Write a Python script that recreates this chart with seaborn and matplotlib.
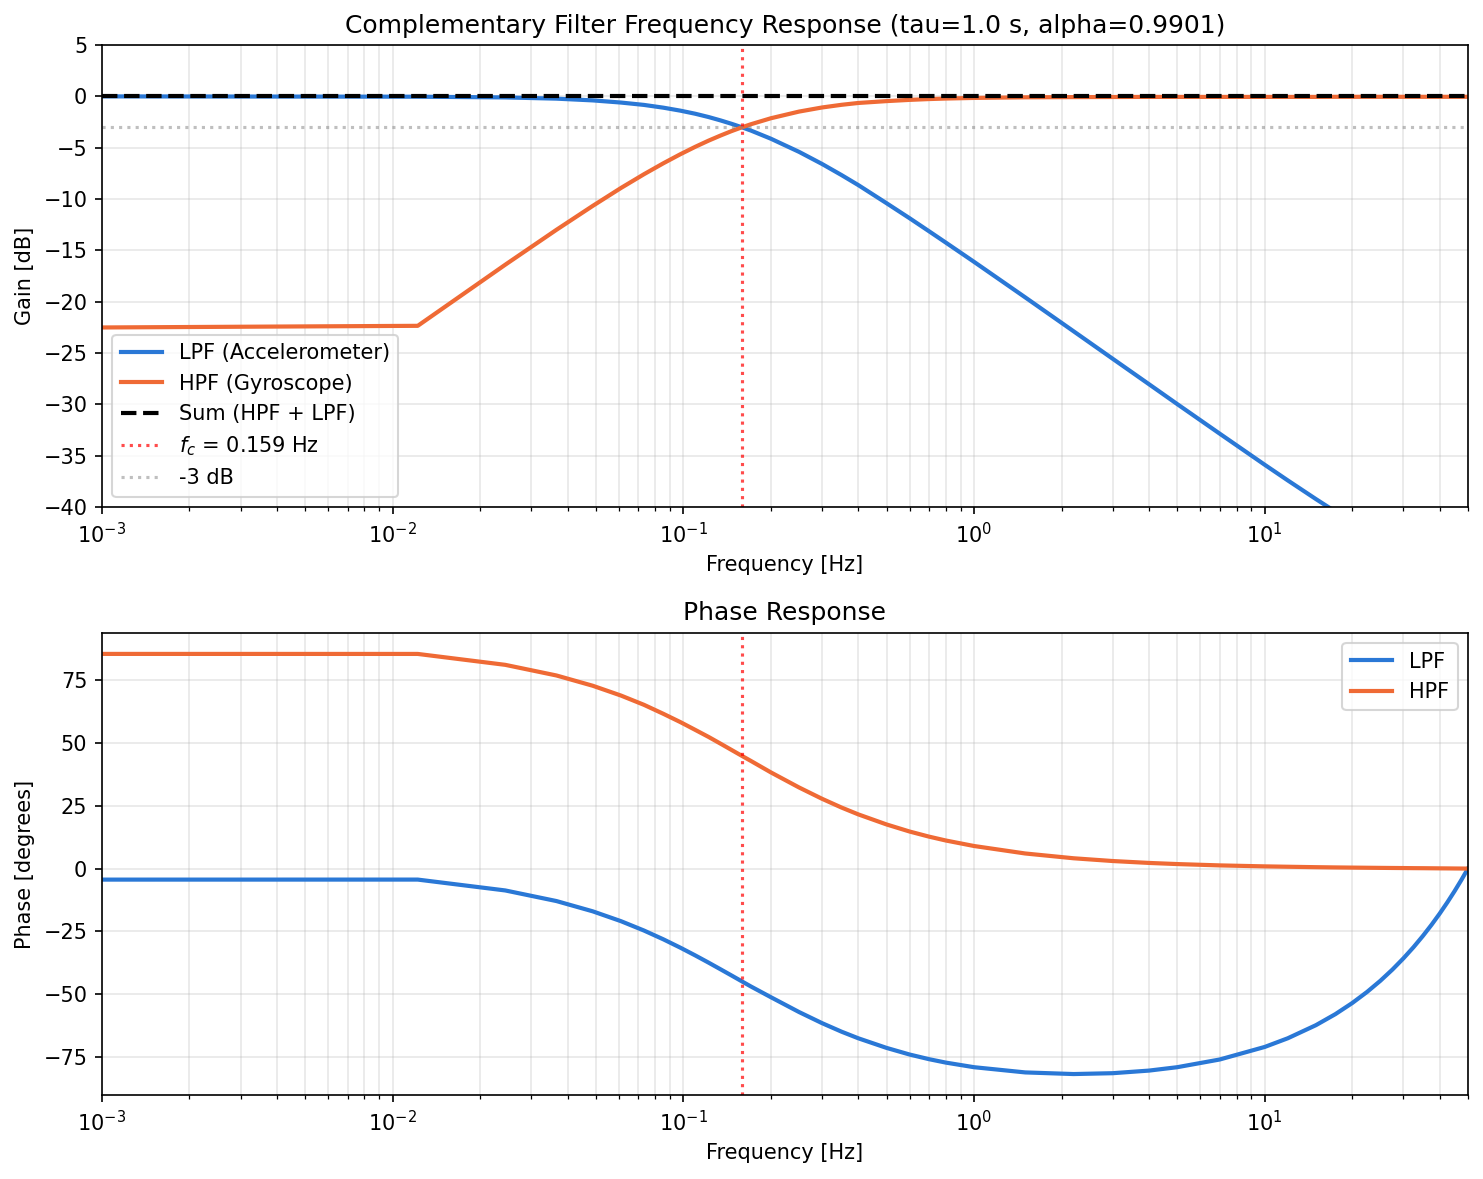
import matplotlib
matplotlib.use("Agg")
import matplotlib.pyplot as plt
import seaborn as sns
import pandas as pd

plt.rcParams['font.family'] = ['DejaVu Sans']

# frequency points (Hz)
freq = [0.001, 0.0122, 0.0244, 0.0366, 0.0488, 0.061, 0.0732, 0.0854, 0.0977,
        0.1099, 0.1221, 0.1343, 0.1465, 0.1587, 0.1709, 0.2, 0.25, 0.3, 0.35, 0.4,
        0.5, 0.6, 0.7, 0.8, 1.0, 1.5, 2.2, 3.0, 4.0, 5.0, 7.0, 10.0, 12.0, 15.0,
        17.5, 20.0, 22.5, 25.0, 27.5, 30.0, 32.5, 35.0, 37.5, 40.0, 42.5, 45.0, 47.5, 50.0]

lpf_gain = [0.0, -0.03, -0.10, -0.22, -0.39, -0.60, -0.83, -1.10, -1.39,
            -1.69, -2.01, -2.34, -2.67, -3.00, -3.33, -4.12, -5.40, -6.58, -7.66, -8.64,
            -10.40, -11.86, -13.13, -14.24, -16.11, -19.57, -22.87, -25.55, -28.03, -29.96, -32.84, -35.87, -37.39, -39.21,
            -40.43, -41.45, -42.32, -43.05, -43.69, -44.22, -44.68, -45.06, -45.38, -45.63, -45.82, -45.96, -46.04, -46.07]
hpf_gain = [-22.5, -22.34, -16.39, -12.99, -10.66, -8.92, -7.58, -6.51, -5.63,
            -4.91, -4.31, -3.81, -3.38, -3.02, -2.71, -2.13, -1.48, -1.08, -0.82, -0.64,
            -0.46, -0.34, -0.26, -0.21, -0.15, -0.09, -0.07, -0.06, -0.05, -0.05, -0.05, -0.05, -0.05, -0.05,
            -0.04, -0.04, -0.04, -0.04, -0.04, -0.04, -0.04, -0.04, -0.04, -0.04, -0.04, -0.04, -0.04, -0.04]
sum_gain = [0.0] * len(freq)

lpf_phase = [-4.4, -4.39, -8.72, -12.95, -17.05, -20.97, -24.70, -28.22, -31.55,
             -34.63, -37.50, -40.17, -42.63, -44.92, -47.03, -51.28, -57.2, -61.63, -65.03, -67.68,
             -71.5, -74.14, -76.0, -77.37, -79.2, -81.28, -81.93, -81.59, -80.55, -79.20, -76.13, -71.12, -67.67, -62.44,
             -58.04, -53.61, -49.17, -44.72, -40.26, -35.79, -31.33, -26.85, -22.38, -17.91, -13.43, -8.96, -4.48, 0.0]
hpf_phase = [85.6, 85.59, 81.24, 77.0, 72.9, 69.0, 65.3, 61.7, 58.4,
             55.3, 52.5, 49.8, 47.3, 45.0, 42.9, 38.36, 32.35, 27.83, 24.34, 21.6,
             17.6, 14.78, 12.74, 11.19, 9.0, 6.02, 4.11, 3.01, 2.25, 1.8, 1.27, 0.88, 0.73, 0.56,
             0.46, 0.39, 0.33, 0.28, 0.24, 0.21, 0.17, 0.15, 0.12, 0.09, 0.07, 0.04, 0.02, 0.0]

fc = 0.159
c_lpf = '#2a78d6'
c_hpf = '#ef6a35'

df = pd.DataFrame({'freq': freq, 'lpf_gain': lpf_gain, 'hpf_gain': hpf_gain,
                   'sum_gain': sum_gain, 'lpf_phase': lpf_phase, 'hpf_phase': hpf_phase})

fig, (ax1, ax2) = plt.subplots(2, 1, figsize=(9.893, 7.86), dpi=150)
fig.subplots_adjust(left=0.0687, right=0.9892, top=0.9618, bottom=0.0712, hspace=0.272)

# Gain
sns.lineplot(data=df, x='freq', y='lpf_gain', ax=ax1, color=c_lpf, linewidth=2, label='LPF (Accelerometer)')
sns.lineplot(data=df, x='freq', y='hpf_gain', ax=ax1, color=c_hpf, linewidth=2, label='HPF (Gyroscope)')
sns.lineplot(data=df, x='freq', y='sum_gain', ax=ax1, color='black', linewidth=2, linestyle='--', label='Sum (HPF + LPF)')
ax1.axvline(fc, color='red', linestyle=':', alpha=0.7, linewidth=1.5, label=r'$f_c$ = 0.159 Hz')
ax1.axhline(-3, color='gray', linestyle=':', alpha=0.5, linewidth=1.5, label='-3 dB')
ax1.set_xscale('log')
ax1.set_xlim(1e-3, 50)
ax1.set_ylim(-40, 5)
ax1.set_xlabel('Frequency [Hz]')
ax1.set_ylabel('Gain [dB]')
ax1.set_title('Complementary Filter Frequency Response (tau=1.0 s, alpha=0.9901)')
ax1.grid(True, which='both', alpha=0.3)
ax1.legend(loc='lower left')

# Phase
sns.lineplot(data=df, x='freq', y='lpf_phase', ax=ax2, color=c_lpf, linewidth=2, label='LPF')
sns.lineplot(data=df, x='freq', y='hpf_phase', ax=ax2, color=c_hpf, linewidth=2, label='HPF')
ax2.axvline(fc, color='red', linestyle=':', alpha=0.7, linewidth=1.5)
ax2.set_xscale('log')
ax2.set_xlim(1e-3, 50)
ax2.set_xlabel('Frequency [Hz]')
ax2.set_ylabel('Phase [degrees]')
ax2.set_title('Phase Response')
ax2.grid(True, which='both', alpha=0.3)
ax2.legend(loc='upper right')

plt.savefig('out.png', dpi=150)
